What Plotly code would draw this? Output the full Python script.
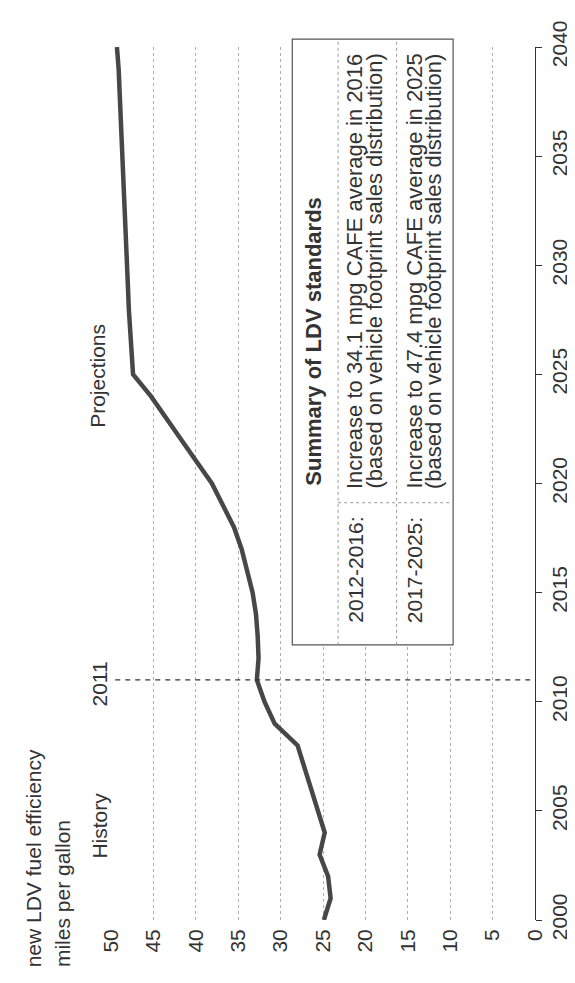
import plotly.graph_objects as go

# data (chart is drawn rotated: years run up the page)
YEARS = list(range(2000, 2041))
MPG = [
    24.9, 24.1, 24.4, 25.4, 24.8, 25.6, 26.4, 27.2, 28.0, 30.7,  # 2000-2009
    31.9, 32.8, 32.6, 32.7, 32.9, 33.3, 33.9, 34.6, 35.5, 36.8,  # 2010-2019
    38.1, 39.9, 41.7, 43.4, 45.3, 47.4, 47.6, 47.8, 47.9, 48.0,  # 2020-2029
    48.1, 48.2, 48.3, 48.4, 48.5, 48.7, 48.8, 48.9, 49.0, 49.1,  # 2030-2039
    49.3,                                                        # 2040
]
MPG_TICKS = [0, 5, 10, 15, 20, 25, 30, 35, 40, 45, 50]
YEAR_TICKS = [2000, 2005, 2010, 2015, 2020, 2025, 2030, 2035, 2040]

TITLE_LINES = ["new LDV fuel efficiency", "miles per gallon"]
TABLE_HEADER = "Summary of LDV standards"
TABLE_PERIODS = ["2012-2016:", "2017-2025:"]
TABLE_TEXT = [
    ["Increase to 34.1 mpg CAFE average in 2016",
     "(based on vehicle footprint sales distribution)"],
    ["Increase to 47.4 mpg CAFE average in 2025",
     "(based on vehicle footprint sales distribution)"],
]

FONT = "Liberation Sans, Arial, sans-serif"
TEXT = "#333"
GRID = "#b0b0b0"
LINE = "#474747"

W, H = 575, 983
L, R, T, B = 103, 37, 27, 71


def px(x):
    return (x - L) / (W - L - R)


def py(y):
    return (H - B - y) / (H - T - B)


def note(text, x, y, size=21, xanchor="center", yanchor="middle", bold=False):
    return dict(
        text=f"<b>{text}</b>" if bold else text,
        x=px(x), y=py(y), xref="paper", yref="paper",
        xanchor=xanchor, yanchor=yanchor, textangle=-90,
        showarrow=False, font=dict(size=size, color=TEXT, family=FONT),
    )


fig = go.Figure()
fig.add_trace(go.Scatter(
    x=MPG, y=YEARS, mode="lines",
    line=dict(color=LINE, width=4.5),
    hoverinfo="skip",
))

annotations = [
    note(TITLE_LINES[0], 23, 962, yanchor="bottom"),
    note(TITLE_LINES[1], 54, 962, yanchor="bottom"),
    note("History", 91, 816),
    note("2011", 91, 673),
    note("Projections", 89, 360),
    note(TABLE_HEADER, 311, 325, size=22, bold=True),
]
for i, (period, lines) in enumerate(zip(TABLE_PERIODS, TABLE_TEXT)):
    x0 = 353 + i * 61
    annotations.append(note(period, x0, 613, size=21, yanchor="bottom"))
    annotations.append(note(lines[0], x0, 477, size=22, yanchor="bottom"))
    annotations.append(note(lines[1], x0 + 20, 477, size=22, yanchor="bottom"))

box = dict(xref="paper", yref="paper")
shapes = [
    dict(type="line", xref="x", yref="y", x0=49.5, x1=0, y0=2011, y1=2011,
         line=dict(color="#333", width=1.2, dash="5px,5px")),
    dict(type="rect", x0=px(289), x1=px(454), y0=py(633), y1=py(19),
         fillcolor="white", line=dict(color="#555", width=1.2), **box),
    dict(type="line", x0=px(336), x1=px(336), y0=py(633), y1=py(19),
         line=dict(color="#999", width=1, dash="dot"), **box),
    dict(type="line", x0=px(396), x1=px(396), y0=py(633), y1=py(19),
         line=dict(color="#999", width=1, dash="dot"), **box),
    dict(type="line", x0=px(336), x1=px(454), y0=py(489), y1=py(489),
         line=dict(color="#999", width=1, dash="dot"), **box),
]

fig.update_xaxes(
    range=[50, 0], tickvals=MPG_TICKS, tickangle=-90,
    showgrid=True, gridcolor=GRID, griddash="dot", gridwidth=1,
    zeroline=False, showline=False, ticks="",
    ticklabelstandoff=4,
    tickfont=dict(size=21, color=TEXT, family=FONT),
)
fig.update_yaxes(
    range=[2000, 2040], tickvals=YEAR_TICKS, tickangle=-90, side="right",
    showgrid=False, zeroline=False,
    showline=True, linecolor="#333", linewidth=1.2,
    ticks="outside", ticklen=6, tickcolor="#333",
    tickfont=dict(size=21, color=TEXT, family=FONT),
)
fig.update_layout(
    width=W, height=H,
    margin=dict(l=L, r=R, t=T, b=B),
    plot_bgcolor="white", paper_bgcolor="white",
    font_family=FONT,
    showlegend=False,
    annotations=annotations,
    shapes=shapes,
)

fig.write_html("out.html")
